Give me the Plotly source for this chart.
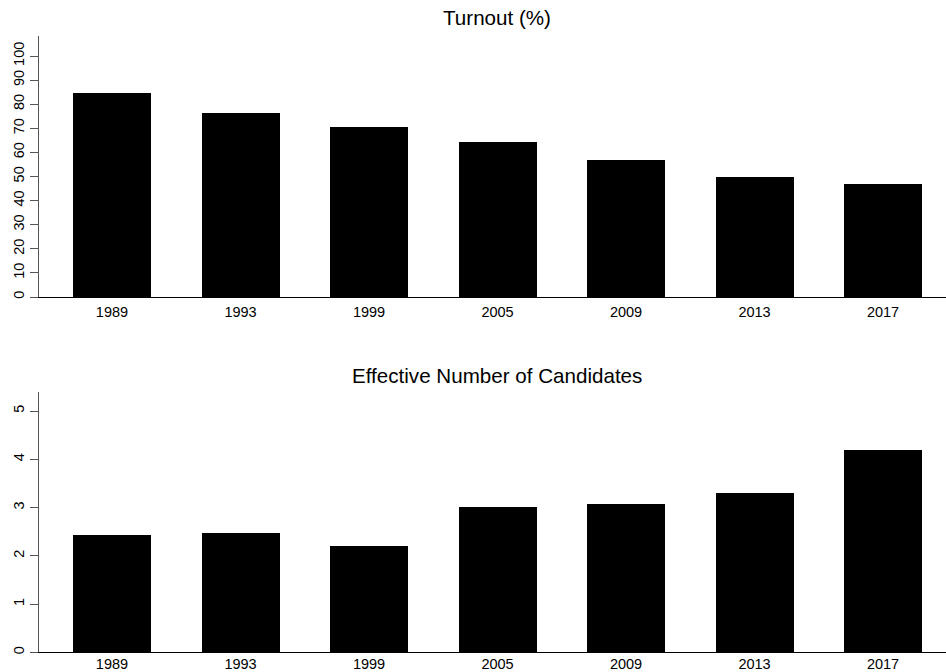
import plotly.graph_objects as go
from plotly.subplots import make_subplots

# Chilean presidential elections (first round)
years = ["1989", "1993", "1999", "2005", "2009", "2013", "2017"]
turnout = [84.8, 76.2, 70.4, 64.4, 56.8, 49.8, 46.9]
enc = [2.43, 2.48, 2.21, 3.01, 3.07, 3.30, 4.19]

turnout_ticks = list(range(0, 101, 10))
enc_ticks = [0, 1, 2, 3, 4, 5]

W, H = 946, 672
FONT = "Liberation Sans, Arial, Helvetica, sans-serif"

fig = make_subplots(rows=2, cols=1)

fig.add_trace(go.Bar(x=years, y=turnout, width=0.607,
                     marker=dict(color="black", line=dict(width=0)),
                     showlegend=False), row=1, col=1)
fig.add_trace(go.Bar(x=years, y=enc, width=0.607,
                     marker=dict(color="black", line=dict(width=0)),
                     showlegend=False), row=2, col=1)

x_dom = [39 / W, 1.0]
top_dom = [1 - 297 / H, 1 - 36 / H]
bot_dom = [1 - 652.3 / H, 1 - 391.7 / H]

xcommon = dict(type="category", range=[-0.568, 6.49], domain=x_dom,
               showgrid=False, zeroline=False, showline=True,
               linecolor="black", linewidth=1, ticks="",
               tickfont=dict(family=FONT, size=14.5, color="black"),
               automargin=False, fixedrange=True)
ycommon = dict(showgrid=False, zeroline=False, showline=True,
               linecolor="#555555", linewidth=1, ticks="outside",
               ticklen=8, tickcolor="#555555", tickwidth=1,
               tickangle=-90,
               tickfont=dict(family=FONT, size=14.5, color="black"),
               ticklabelstandoff=0, automargin=False, fixedrange=True)

fig.update_layout(
    xaxis=dict(**xcommon, ticklabelstandoff=2),
    xaxis2=dict(**xcommon, ticklabelstandoff=-2),
    yaxis=dict(**ycommon, domain=top_dom, range=[0, 108.3],
               tickvals=turnout_ticks,
               ticktext=[str(v) for v in turnout_ticks]),
    yaxis2=dict(**ycommon, domain=bot_dom, range=[0, 5.4],
                tickvals=enc_ticks,
                ticktext=[str(v) for v in enc_ticks]),
    width=W, height=H,
    margin=dict(l=0, r=0, t=0, b=0),
    paper_bgcolor="white", plot_bgcolor="white",
    bargap=0,
    annotations=[
        dict(text="Turnout (%)", x=497 / W, y=1 - 17.5 / H,
             xref="paper", yref="paper", showarrow=False,
             xanchor="center", yanchor="middle",
             font=dict(family=FONT, size=20.6, color="black")),
        dict(text="Effective Number of Candidates", x=497 / W, y=1 - 375.5 / H,
             xref="paper", yref="paper", showarrow=False,
             xanchor="center", yanchor="middle",
             font=dict(family=FONT, size=20.6, color="black")),
    ],
)

fig.write_html("out.html", config={"displayModeBar": False})
